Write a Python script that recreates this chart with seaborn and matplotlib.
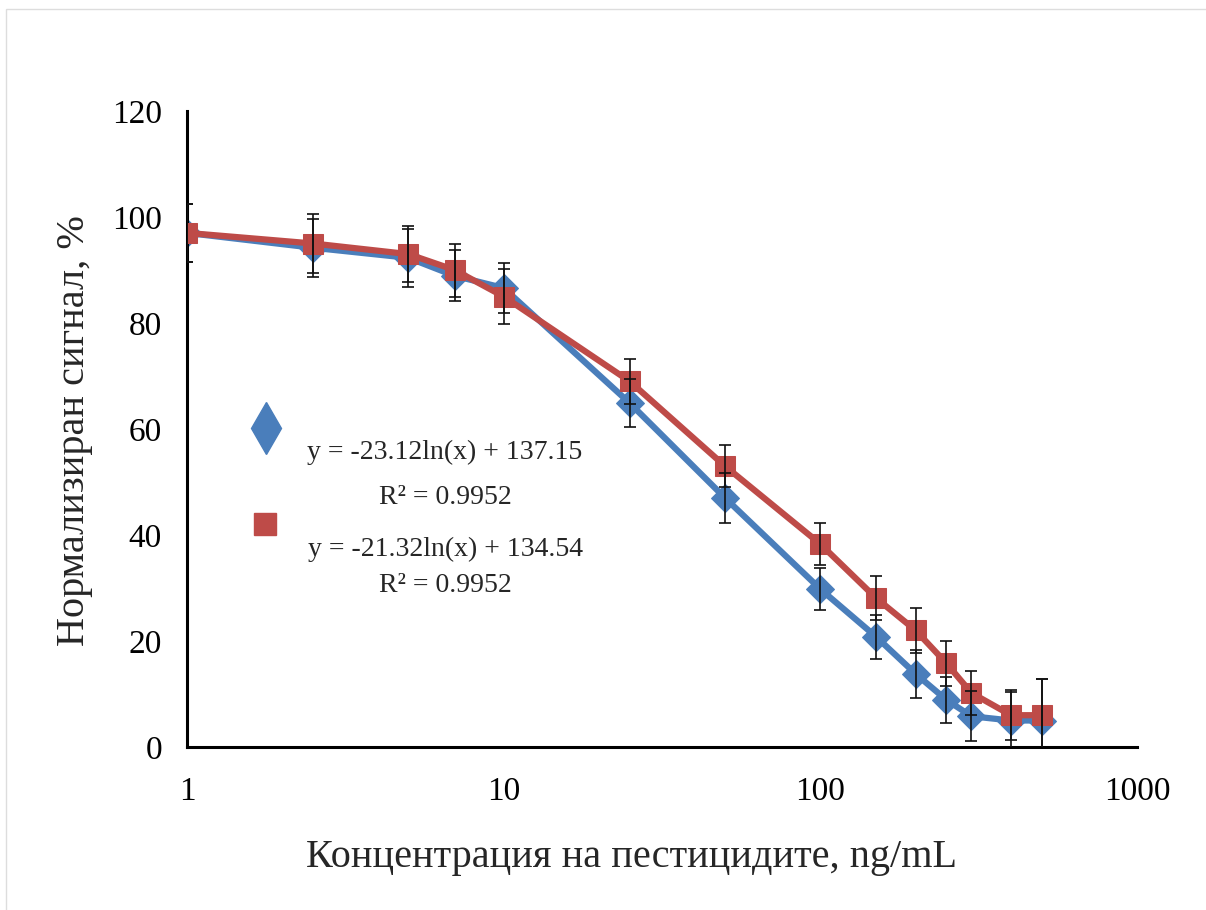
import matplotlib
matplotlib.use("Agg")
import matplotlib.pyplot as plt
import pandas as pd
import seaborn as sns
from matplotlib.patches import Rectangle

# concentrations, ng/mL
conc = [1, 2.5, 5, 7, 10, 25, 50, 100, 150, 200, 250, 300, 400, 500]

# normalised signal, % (blue diamonds / red squares)
blue_vals = [97.0, 94.2, 92.3, 88.9, 86.6, 64.9, 47.0, 29.8, 20.8, 13.8, 8.9, 5.8, 5.0, 5.0]
blue_err = [5.5, 5.5, 5.5, 4.8, 4.7, 4.5, 4.7, 4.0, 4.2, 4.5, 4.3, 4.7, 5.3, 7.8]
red_vals = [97.0, 95.0, 93.0, 90.0, 85.0, 69.0, 53.0, 38.3, 28.1, 22.0, 15.8, 10.2, 6.0, 6.0]
red_err = [5.5, 5.5, 5.3, 5.0, 5.1, 4.3, 4.0, 4.0, 4.2, 4.3, 4.2, 4.2, 4.7, 6.8]

eq_blue = ["y = -23.12ln(x) + 137.15", "R² = 0.9952"]
eq_red = ["y = -21.32ln(x) + 134.54", "R² = 0.9952"]

blue = "#4A7EBB"
red = "#BE4B48"

df = pd.DataFrame({"conc": conc, "blue": blue_vals, "red": red_vals})

sns.set_theme(style="white")
plt.rcParams["font.family"] = ["Liberation Serif", "DejaVu Serif"]

fig = plt.figure(figsize=(12.06, 9.10), dpi=100)
ax = fig.add_axes([187 / 1206, 1 - 747 / 910, 950 / 1206, 636 / 910])

sns.lineplot(data=df, x="conc", y="blue", ax=ax, color=blue, lw=4.5,
             marker="D", markersize=14, markeredgecolor=blue, zorder=2)
sns.lineplot(data=df, x="conc", y="red", ax=ax, color=red, lw=4.5,
             marker="s", markersize=15, markeredgecolor=red, zorder=3)

ax.errorbar(conc, blue_vals, yerr=blue_err, fmt="none", ecolor="#111111",
            elinewidth=1.2, capsize=4, capthick=1.2, zorder=4)
ax.errorbar(conc, red_vals, yerr=red_err, fmt="none", ecolor="#111111",
            elinewidth=1.2, capsize=4, capthick=1.2, zorder=4)

ax.set_xscale("log")
ax.set_xlim(1, 1000)
ax.set_ylim(0, 120)
ax.set_yticks(range(0, 121, 20))
ax.set_xticks([1, 10, 100, 1000])
ax.set_xticklabels(["1", "10", "100", "1000"])
ax.minorticks_off()

for s in ["top", "right"]:
    ax.spines[s].set_visible(False)
for s in ["left", "bottom"]:
    ax.spines[s].set_color("black")
    ax.spines[s].set_linewidth(2.2)

ax.tick_params(axis="both", direction="in", length=7, width=2, colors="black",
               labelsize=24)
ax.tick_params(axis="y", pad=18)
ax.tick_params(axis="x", pad=21)

ax.set_xlabel("Концентрация на пестицидите, ng/mL", fontsize=29, va="center")
ax.set_ylabel("Нормализиран сигнал, %", fontsize=29, va="center")
ax.xaxis.set_label_coords(0.468, -0.1745)
ax.yaxis.set_label_coords(-0.118, 0.498)

# legend keys and trendline equations
ax.plot([0.2206], [0.5297], transform=fig.transFigure, marker="d",
        markersize=26, color=blue, clip_on=False)
ax.plot([0.2197], [0.4242], transform=fig.transFigure, marker="s",
        markersize=16, color=red, clip_on=False)
for txt, yy in zip(eq_blue + eq_red, [0.5033, 0.4538, 0.3967, 0.3571]):
    fig.text(0.369, yy, txt, ha="center", va="center", fontsize=20)

fig.add_artist(Rectangle((6 / 1206, -0.1), 1.2, 1 - 9 / 910 + 0.1,
                         transform=fig.transFigure, fill=False,
                         edgecolor="#dddddd", lw=1))

fig.savefig("out.png", dpi=100)
